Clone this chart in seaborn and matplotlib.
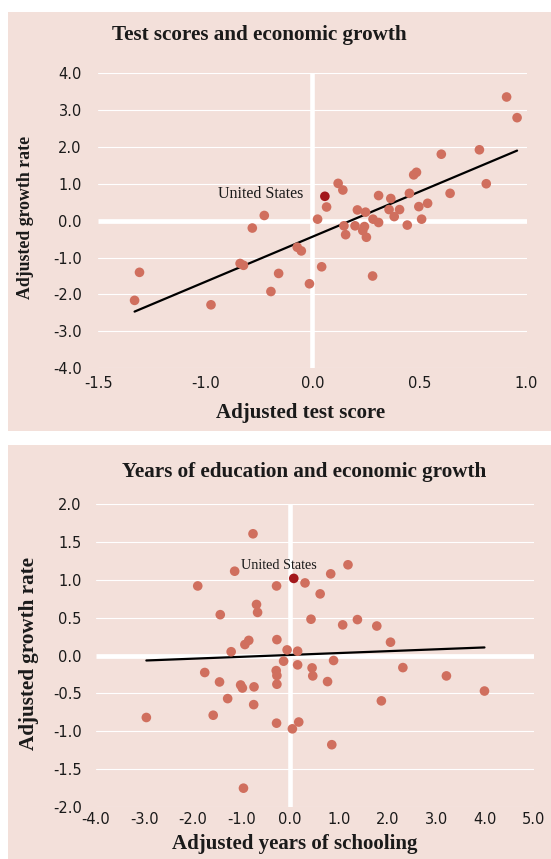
import matplotlib
matplotlib.use("Agg")
import matplotlib.pyplot as plt
from matplotlib.patches import Rectangle
import numpy as np
import pandas as pd
import seaborn as sns

sns.set_theme(style="white")
plt.rcParams["font.family"] = ["DejaVu Sans"]

# ---- Panel 1: test scores vs. growth ----
score_x = [0.907, 0.956, 0.780, 0.602, 0.812, 0.643, 0.486, 0.473, 0.120, 0.142,
           0.066, 0.024, -0.225, -0.281, -0.071, -0.052, 0.309, 0.366, 0.453, 0.210,
           0.248, 0.358, 0.407, 0.382, 0.497, 0.538, 0.283, 0.309, 0.510, 0.443,
           0.147, 0.199, 0.243, 0.235, 0.155, 0.252, 0.043, -0.338, -0.322, -0.808,
           -0.158, 0.281, -0.014, -0.194, -0.831, -0.474]
score_growth = [3.35, 2.79, 1.92, 1.80, 1.00, 0.74, 1.31, 1.24, 1.01, 0.83,
                0.37, 0.04, 0.14, -0.20, -0.72, -0.82, 0.68, 0.60, 0.74, 0.29,
                0.23, 0.30, 0.30, 0.11, 0.38, 0.47, 0.04, -0.05, 0.04, -0.12,
                -0.14, -0.14, -0.16, -0.27, -0.38, -0.45, -1.25, -1.16, -1.21, -1.40,
                -1.43, -1.50, -1.71, -1.92, -2.16, -2.28]
us_score = (0.058, 0.66)
score_ticks = [-1.0, -0.5, 0.0, 0.5, 1.0]
score_tick_labels = ["-1.5", "-1.0", "0.0", "0.5", "1.0"]
growth_ticks_1 = [-4, -3, -2, -1, 0, 1, 2, 3, 4]

# ---- Panel 2: years of schooling vs. growth ----
school_x = [-0.765, -1.142, 1.187, 0.832, 0.304, -1.901, -0.281, 0.615, -0.693, -0.671,
            -1.438, 0.427, 1.078, 1.381, 1.779, 2.061, -0.932, -0.852, -0.274, -1.214,
            -0.064, 0.152, -0.136, 0.891, 0.152, 0.449, 0.463, 2.315, 3.210, -1.757,
            -0.288, -0.274, -0.274, -1.453, 0.767, -1.019, -0.983, -0.744, 3.992, -1.286,
            1.873, -0.751, -2.957, -1.583, -0.281, 0.175, 0.044, 0.854, -0.961]
school_growth = [1.61, 1.115, 1.20, 1.08, 0.96, 0.92, 0.92, 0.815, 0.675, 0.57,
                 0.54, 0.48, 0.405, 0.475, 0.39, 0.176, 0.145, 0.20, 0.21, 0.05,
                 0.074, 0.057, -0.075, -0.066, -0.124, -0.164, -0.27, -0.16, -0.27, -0.225,
                 -0.20, -0.265, -0.38, -0.35, -0.345, -0.39, -0.43, -0.415, -0.47, -0.57,
                 -0.60, -0.65, -0.82, -0.79, -0.895, -0.88, -0.97, -1.18, -1.755]
us_school = (0.073, 1.02)
school_ticks = [-4, -3, -2, -1, 0, 1, 2, 3, 4, 5]
growth_ticks_2 = [-2.0, -1.5, -1.0, -0.5, 0.0, 0.5, 1.0, 1.5, 2.0]

BG = "#f3e0da"
DOT = "#d06f5e"
US_DOT = "#a3181c"
TXT = "#1a1a1a"
SERIF = "Liberation Serif"

W, H = 551, 859
fig = plt.figure(figsize=(W / 100, H / 100), dpi=100)
fig.patch.set_facecolor("white")


def fx(px):
    return px / W


def fy(py):
    return 1 - py / H


# pink panel backgrounds (behind the axes)
for top, bottom in [(12, 431), (445, 859)]:
    fig.patches.append(Rectangle((fx(8), fy(bottom)), fx(551 - 8), (bottom - top) / H,
                                 transform=fig.transFigure, facecolor=BG,
                                 edgecolor="none", zorder=-5))


def panel(rect, xs, ys, us, xlim, ylim, xticks, xticklabels, yticks,
          xpad, ypad, ticklen):
    ax = fig.add_axes(rect)
    ax.set_facecolor("none")
    df = pd.DataFrame({"x": list(xs) + [us[0]], "y": list(ys) + [us[1]]})
    # grid lines
    for yv in yticks:
        if yv == 0:
            ax.axhline(0, color="white", lw=3.4, zorder=1, solid_capstyle="butt")
        else:
            ax.axhline(yv, color="white", lw=0.8, zorder=1)
    ax.plot([0, 0], [ylim[0], ylim[1]], color="white", lw=3.3, zorder=1,
            solid_capstyle="butt")
    sns.scatterplot(x=xs, y=ys, ax=ax, color=DOT, s=48, edgecolor="none",
                    linewidth=0, zorder=3)
    sns.scatterplot(x=[us[0]], y=[us[1]], ax=ax, color=US_DOT, s=48,
                    edgecolor="none", linewidth=0, zorder=4)
    sns.regplot(data=df, x="x", y="y", ax=ax, scatter=False, ci=None,
                line_kws={"color": "black", "lw": 1.6, "zorder": 2})
    ax.set_xlim(*xlim)
    ax.set_ylim(*ylim)
    for s in ax.spines.values():
        s.set_visible(False)
    ax.set_xticks(xticks)
    ax.set_xticklabels(xticklabels)
    ax.set_yticks(yticks)
    ax.set_yticklabels([f"{v:.1f}" for v in yticks])
    ax.tick_params(axis="x", length=ticklen, width=1, color="white",
                   direction="out", pad=xpad, labelsize=10.5, labelcolor=TXT)
    ax.tick_params(axis="y", length=0, pad=ypad, labelsize=10.5, labelcolor=TXT)
    ax.set_xlabel("")
    ax.set_ylabel("")
    return ax


# Panel 1 axes: x 98.4..526.5 px, y 73..368.3 px
ax1 = panel([fx(98.4), fy(368.3), (526.5 - 98.4) / W, (368.3 - 73) / H],
            score_x, score_growth, us_score, (-0.995, 1.0), (-4, 4),
            score_ticks, score_tick_labels, growth_ticks_1,
            xpad=1.5, ypad=12, ticklen=4)
ax1.text(us_score[0] - 0.1, us_score[1] + 0.05, "United States", ha="right",
         va="center", family=SERIF, fontsize=11.5, color=TXT)

# Panel 2 axes: x 95.6..534 px, y 504.3..806.7 px
ax2 = panel([fx(95.6), fy(806.7), (534 - 95.6) / W, (806.7 - 504.3) / H],
            school_x, school_growth, us_school, (-4, 5.01), (-2, 2),
            school_ticks, [f"{v:.1f}" for v in school_ticks], growth_ticks_2,
            xpad=0, ypad=10, ticklen=3.5)
ax2.text(us_school[0] - 0.3, us_school[1] + 0.17, "United States", ha="center",
         va="center", family=SERIF, fontsize=10.2, color=TXT)

# titles and axis labels
fig.text(fx(259.7), fy(35), "Test scores and economic growth", ha="center",
         va="center", family=SERIF, weight="bold", fontsize=15.2, color=TXT)
fig.text(fx(300.8), fy(413), "Adjusted test score", ha="center", va="center",
         family=SERIF, weight="bold", fontsize=15, color=TXT)
fig.text(fx(26), fy(217), "Adjusted growth rate", ha="center", va="center",
         rotation=90, family=SERIF, weight="bold", fontsize=12.8, color=TXT)

fig.text(fx(304), fy(471.7), "Years of education and economic growth", ha="center",
         va="center", family=SERIF, weight="bold", fontsize=15.2, color=TXT)
fig.text(fx(295), fy(844), "Adjusted years of schooling", ha="center",
         va="center", family=SERIF, weight="bold", fontsize=15, color=TXT)
fig.text(fx(29), fy(654), "Adjusted growth rate", ha="center", va="center",
         rotation=90, family=SERIF, weight="bold", fontsize=15.2, color=TXT)

fig.savefig("out.png", dpi=100, facecolor=fig.get_facecolor())
